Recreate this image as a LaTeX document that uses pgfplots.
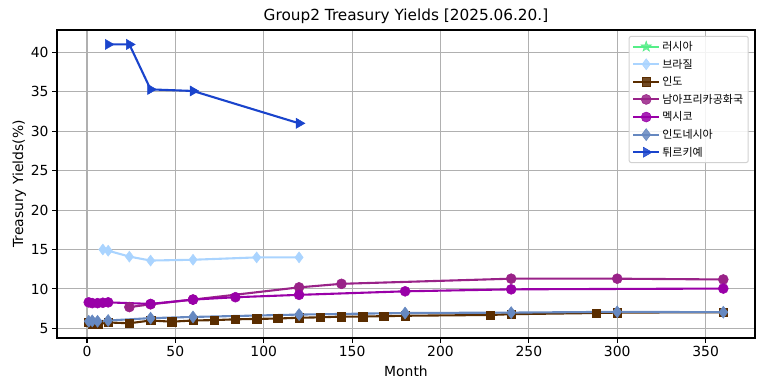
\documentclass[border=0pt]{standalone}
\usepackage{pgfplots}
\pgfplotsset{compat=1.18}
\usepackage{fontspec}
\setmainfont{DejaVu Sans}
\newfontfamily\kr{Noto Sans CJK KR}
\usetikzlibrary{calc}
\definecolor{cRus}{HTML}{55EE88}
\definecolor{cBra}{HTML}{AAD4FF}
\definecolor{cInd}{HTML}{5A2D00}
\definecolor{cSA}{HTML}{992288}
\definecolor{cMex}{HTML}{9900A8}
\definecolor{cIdn}{HTML}{6688C0}
\definecolor{cTur}{HTML}{1A44CC}
\pgfdeclareplotmark{fstar}{%
  \pgfpathmoveto{\pgfqpointpolar{90}{\pgfplotmarksize}}%
  \pgfpathlineto{\pgfqpointpolar{126}{0.4\pgfplotmarksize}}%
  \pgfpathlineto{\pgfqpointpolar{162}{\pgfplotmarksize}}%
  \pgfpathlineto{\pgfqpointpolar{198}{0.4\pgfplotmarksize}}%
  \pgfpathlineto{\pgfqpointpolar{234}{\pgfplotmarksize}}%
  \pgfpathlineto{\pgfqpointpolar{270}{0.4\pgfplotmarksize}}%
  \pgfpathlineto{\pgfqpointpolar{306}{\pgfplotmarksize}}%
  \pgfpathlineto{\pgfqpointpolar{342}{0.4\pgfplotmarksize}}%
  \pgfpathlineto{\pgfqpointpolar{18}{\pgfplotmarksize}}%
  \pgfpathlineto{\pgfqpointpolar{54}{0.4\pgfplotmarksize}}%
  \pgfpathclose\pgfusepathqfillstroke}
\begin{document}
\begin{tikzpicture}
\begin{axis}[
  scale only axis,
  width=698pt, height=308pt,
  xmin=-16.95, xmax=377.95,
  ymin=3.78, ymax=42.83,
  xtick={0,50,...,350},
  ytick={5,10,...,40},
  grid=major,
  grid style={color=black!31, line width=1.1pt},
  axis line style={line width=1.1pt},
  tick style={black, line width=1.1pt},
  tick align=outside,
  major tick length=4.9pt,
  xtick pos=bottom, ytick pos=left,
  /pgf/number format/assume math mode=true,
  tick label style={font=\fontsize{13.9}{16}\selectfont},
  xlabel={Month},
  ylabel={Treasury Yields(\%)},
  label style={font=\fontsize{13.9}{16}\selectfont},
  xlabel style={yshift=-2pt},
  ylabel style={yshift=-2pt},
  title={Group2 Treasury Yields [2025.06.20.]},
  title style={font=\fontsize{15.3}{18}\selectfont, yshift=-3pt},
  every axis plot/.append style={line width=2.1pt},
  legend style={at={(rel axis cs:0.991,0.981)}, anchor=north east,
    font=\fontsize{11}{13}\selectfont\kr, draw=black!18, line width=1pt,
    rounded corners=2pt, row sep=3pt, inner sep=3pt,
    fill=white, fill opacity=0.85, text opacity=1},
  legend cell align=left,
  legend image code/.code={\draw[mark repeat=2,mark phase=2] plot coordinates {(0pt,0pt)(13pt,0pt)(26pt,0pt)};},
]
\addlegendimage{cRus, mark=fstar, mark size=5.5pt, mark options={fill=cRus, line width=0.5pt}}
\addlegendentry{러시아}
\addplot[cBra, mark=diamond*, mark size=5.5pt, mark options={fill=cBra, line width=0.5pt}] coordinates {
(9,15.0)(12,14.85)(24,14.1)(36,13.6)(60,13.7)(96,14.0)(120,14.0)};
\addlegendentry{브라질}
\addplot[cInd, mark=square*, mark size=4.2pt, mark options={fill=cInd, line width=0.5pt}] coordinates {
(1,5.8)(3,5.5)(6,5.5)(12,5.75)(24,5.65)(36,6.0)(48,5.85)(60,6.0)(72,6.05)(84,6.15)(96,6.2)(108,6.25)(120,6.35)(132,6.4)(144,6.5)(156,6.5)(168,6.55)(180,6.6)(228,6.7)(240,6.8)(288,6.95)(300,7.0)(360,7.05)};
\addlegendentry{인도}
\addplot[cSA, mark=*, mark size=5pt, mark options={fill=cSA, line width=0.5pt}] coordinates {
(24,7.7)(36,8.05)(60,8.65)(120,10.2)(144,10.65)(240,11.3)(300,11.3)(360,11.2)};
\addlegendentry{남아프리카공화국}
\addplot[cMex, mark=*, mark size=5pt, mark options={fill=cMex, line width=0.5pt}] coordinates {
(1,8.3)(3,8.2)(6,8.2)(9,8.25)(12,8.3)(36,8.1)(60,8.65)(84,8.95)(120,9.25)(180,9.7)(240,9.95)(360,10.05)};
\addlegendentry{멕시코}
\addplot[cIdn, mark=diamond*, mark size=6pt, mark options={fill=cIdn, line width=0.5pt}] coordinates {
(1,5.9)(3,5.95)(6,5.9)(12,6.0)(36,6.3)(60,6.45)(120,6.75)(180,6.95)(240,7.0)(300,7.1)(360,7.05)};
\addlegendentry{인도네시아}
\addplot[cTur, mark=triangle*, mark size=5.8pt, mark options={fill=cTur, rotate=-90, line width=0.5pt}] coordinates {
(12,41.0)(24,41.0)(36,35.3)(60,35.1)(120,31.0)};
\addlegendentry{튀르키예}
\end{axis}
\useasboundingbox ($(current axis.south west)+(-57pt,-53pt)$) rectangle ($(current axis.north east)+(9pt,30pt)$);
\end{tikzpicture}
\end{document}
